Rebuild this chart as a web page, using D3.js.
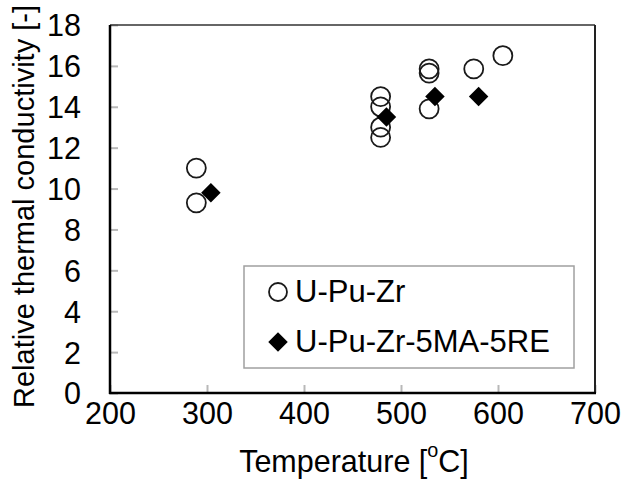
<!DOCTYPE html>
<html>
<head>
<meta charset="utf-8">
<script src="https://cdn.jsdelivr.net/npm/d3@7"></script>
<style>
  html, body { margin: 0; padding: 0; background: #fff; }
  svg text { font-family: Arial, "Liberation Sans", sans-serif; fill: #000; }
</style>
</head>
<body>
<svg id="chart" width="623" height="481"></svg>
<script>
// Temperature [°C] and relative thermal conductivity [-]
const uPuZrTemp = [289, 289, 479, 479, 479, 479, 529, 529, 529, 575, 605];
const uPuZrCond = [11.0, 9.3, 14.5, 14.0, 13.0, 12.5, 15.85, 15.65, 13.9, 15.85, 16.5];
const maReTemp = [304, 485, 535, 580];
const maReCond = [9.8, 13.5, 14.5, 14.5];

const xTicks = [200, 300, 400, 500, 600, 700];
const yTicks = [0, 2, 4, 6, 8, 10, 12, 14, 16, 18];
const seriesNames = ["U-Pu-Zr", "U-Pu-Zr-5MA-5RE"];

const svg = d3.select("#chart");
const margin = { left: 110, right: 28, top: 25, bottom: 88 };
const W = 623, H = 481;
const x = d3.scaleLinear().domain([200, 700]).range([margin.left, W - margin.right]);
const y = d3.scaleLinear().domain([0, 18]).range([H - margin.bottom, margin.top]);

const fontSize = 30.5;

// Inward tick marks (grey) on the left and bottom
const tickLen = 8;
const gx = svg.append("g").attr("transform", `translate(0,${y(0)})`)
  .call(d3.axisBottom(x).tickValues(xTicks).tickSize(-tickLen).tickPadding(tickLen + 1).tickFormat(d3.format("d")));
const gy = svg.append("g").attr("transform", `translate(${x(200)},0)`)
  .call(d3.axisLeft(y).tickValues(yTicks).tickSize(-tickLen).tickPadding(tickLen + 21).tickFormat(d3.format("d")));
[gx, gy].forEach(g => {
  g.select(".domain").remove();
  g.selectAll(".tick line").attr("stroke", "#b8b8b8").attr("stroke-width", 2);
  g.selectAll(".tick text").attr("font-size", fontSize).attr("font-family", "Arial, 'Liberation Sans', sans-serif").attr("fill", "#000");
});
gy.selectAll(".tick text").attr("dy", "0.36em");

// Plot frame
svg.append("line").attr("x1", x(200)).attr("x2", x(700)).attr("y1", y(18)).attr("y2", y(18))
  .attr("stroke", "#333").attr("stroke-width", 1.5);
svg.append("line").attr("x1", x(700)).attr("x2", x(700)).attr("y1", y(18)).attr("y2", y(0))
  .attr("stroke", "#222").attr("stroke-width", 2);
svg.append("line").attr("x1", x(200)).attr("x2", x(200)).attr("y1", y(18)).attr("y2", y(0) + 1)
  .attr("stroke", "#000").attr("stroke-width", 2.5);
svg.append("line").attr("x1", x(200) - 1).attr("x2", x(700) + 1).attr("y1", y(0)).attr("y2", y(0))
  .attr("stroke", "#000").attr("stroke-width", 2.5);

// Open circles: U-Pu-Zr
const circleR = 9.5;
svg.append("g").selectAll("circle")
  .data(d3.range(uPuZrTemp.length))
  .join("circle")
  .attr("cx", i => x(uPuZrTemp[i]))
  .attr("cy", i => y(uPuZrCond[i]))
  .attr("r", circleR)
  .attr("fill", "none")
  .attr("stroke", "#1a1a1a")
  .attr("stroke-width", 1.8);

// Filled diamonds: U-Pu-Zr-5MA-5RE
const diamond = d3.symbol().type(d3.symbolSquare).size(190);
svg.append("g").selectAll("path")
  .data(d3.range(maReTemp.length))
  .join("path")
  .attr("d", diamond)
  .attr("transform", i => `translate(${x(maReTemp[i])},${y(maReCond[i])}) rotate(45)`)
  .attr("fill", "#000");

// Legend
const lg = svg.append("g");
lg.append("rect").attr("x", 244).attr("y", 266).attr("width", 330).attr("height", 102)
  .attr("fill", "#fff").attr("stroke", "#a0a0a0").attr("stroke-width", 1.5);
lg.append("circle").attr("cx", 278).attr("cy", 292).attr("r", 9)
  .attr("fill", "none").attr("stroke", "#1a1a1a").attr("stroke-width", 1.8);
lg.append("path").attr("d", diamond).attr("transform", "translate(278,342) rotate(45)").attr("fill", "#000");
lg.append("text").attr("x", 295).attr("y", 302).attr("font-size", 31).text(seriesNames[0]);
lg.append("text").attr("x", 295).attr("y", 352).attr("font-size", 31).text(seriesNames[1]);

// Axis titles
const xt = svg.append("text").attr("x", 354).attr("y", 472).attr("text-anchor", "middle").attr("font-size", fontSize);
xt.append("tspan").text("Temperature [");
xt.append("tspan").attr("font-size", fontSize * 0.65).attr("dy", "-0.75em").text("o");
xt.append("tspan").attr("dy", "0.49em").text("C]");

svg.append("text")
  .attr("transform", `translate(34,${(10 + 403) / 2}) rotate(-90)`)
  .attr("text-anchor", "middle")
  .attr("font-size", 29)
  .text("Relative thermal conductivity [-]");
</script>
</body>
</html>
